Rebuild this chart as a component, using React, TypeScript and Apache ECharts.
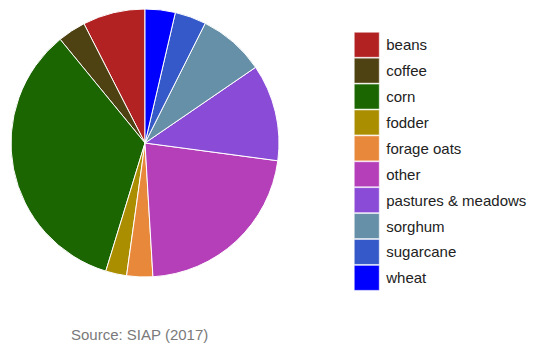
import React, { useEffect, useRef } from "react";
import * as echarts from "echarts";

const categories = ["beans", "coffee", "corn", "fodder", "forage oats", "other", "pastures & meadows", "sorghum", "sugarcane", "wheat"];
const values = [7.53, 3.39, 34.36, 2.53, 3.14, 21.94, 11.67, 8.03, 3.78, 3.64];
const colors = ["#b22222", "#4f4212", "#1b6600", "#ab8e00", "#e8883a", "#b53fb8", "#8a4bd6", "#6690a8", "#3559c8", "#0000ff"];
const sourceText = "Source: SIAP (2017)";

export default function App() {
  const ref = useRef<HTMLDivElement>(null);
  useEffect(() => {
    const chart = echarts.init(ref.current!, null, { renderer: "svg" });
    chart.setOption({
      animation: false,
      color: colors,
      legend: {
        orient: "vertical",
        left: 354,
        top: 32,
        padding: 0,
        itemWidth: 25,
        itemHeight: 25,
        itemGap: 0.4,
        icon: "rect",
        itemStyle: { borderColor: "#fff", borderWidth: 0.5 },
        textStyle: { fontSize: 15, lineHeight: 14, color: "#222", fontFamily: "Liberation Sans, Arial, sans-serif", padding: [0, 0, 0, 2] },
        data: categories,
      },
      title: {
        text: sourceText,
        left: 71,
        top: 327,
        padding: 0,
        textStyle: { fontSize: 15, color: "#7a7a7a", fontWeight: "normal", fontFamily: "Liberation Sans, Arial, sans-serif" },
      },
      series: [
        {
          type: "pie",
          center: [145, 143],
          radius: 134,
          startAngle: 90,
          clockwise: false,
          label: { show: false },
          labelLine: { show: false },
          itemStyle: { borderColor: "#fff", borderWidth: 1 },
          data: categories.map((c, i) => ({ name: c, value: values[i] })),
        },
      ],
    });
    return () => chart.dispose();
  }, []);
  return <div ref={ref} style={{ width: 550, height: 347, position: "absolute", left: 0, top: 0 }} />;
}
